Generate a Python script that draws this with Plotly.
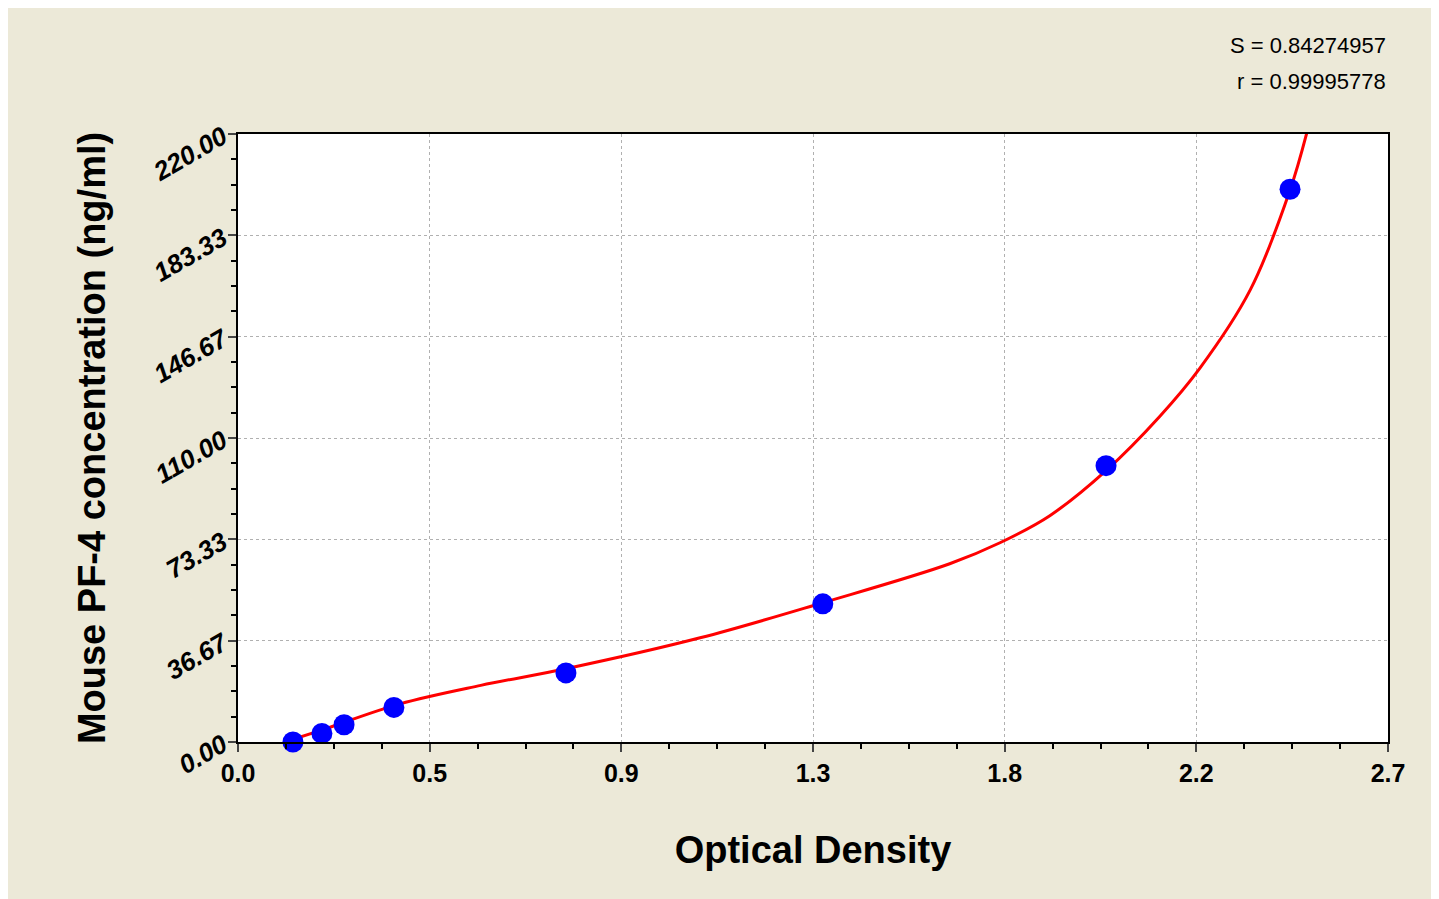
import plotly.graph_objects as go

od = [0.129, 0.197, 0.249, 0.366, 0.770, 1.373, 2.038, 2.470]
conc = [0, 3.12, 6.25, 12.5, 25, 50, 100, 200]
curve_x = [0.110, 0.200, 0.380, 0.570, 0.770, 1.085, 1.373, 1.671, 1.789, 1.906, 2.038, 2.164, 2.258, 2.376, 2.470, 2.512]
curve_y = [0, 4.5, 13.8, 20.5, 26.5, 37.7, 50.4, 64.5, 72.1, 81.9, 98.2, 117.8, 135.2, 163.4, 199.7, 222]
xticks = [0, 0.45, 0.9, 1.35, 1.8, 2.25, 2.7]
xlabels = ["0.0", "0.5", "0.9", "1.3", "1.8", "2.2", "2.7"]
yticks = [0, 36.67, 73.33, 110, 146.67, 183.33, 220]
ylabels = ["0.00", "36.67", "73.33", "110.00", "146.67", "183.33", "220.00"]

fig = go.Figure()
fig.add_trace(go.Scatter(x=curve_x, y=curve_y, mode="lines", line=dict(color="#ff0000", width=3, shape="spline"), showlegend=False))
fig.add_trace(go.Scatter(x=od, y=conc, mode="markers", marker=dict(color="#0000ff", size=21), showlegend=False, cliponaxis=False))
fig.update_layout(
    width=1431, height=891, paper_bgcolor="#ECE9D8", plot_bgcolor="white",
    margin=dict(l=230, r=51, t=126, b=157),
    font=dict(family="Arial, Liberation Sans", color="black"),
    xaxis=dict(range=[0, 2.7], tickvals=xticks, ticktext=xlabels, showgrid=True, gridcolor="#b0b0b0", griddash="dot",
               ticks="outside", ticklen=8, tickwidth=1.5, showline=True, linecolor="black", linewidth=2, mirror=True,
               minor=dict(dtick=0.1125, ticks="outside", ticklen=5, tickcolor="black", showgrid=False),
               tickfont=dict(size=25, weight="bold"), zeroline=False,
               title=dict(text="<b>Optical Density</b>", font=dict(size=38), standoff=50)),
    yaxis=dict(range=[0, 220], tickvals=yticks, ticktext=ylabels, showgrid=True, gridcolor="#b0b0b0", griddash="dot",
               ticks="outside", ticklen=8, tickwidth=1.5, showline=True, linecolor="black", linewidth=2, mirror=True,
               minor=dict(dtick=220/24, ticks="outside", ticklen=5, tickcolor="black", showgrid=False),
               tickangle=-30, tickfont=dict(size=26, weight="bold", style="italic"), zeroline=False,
               title=dict(text="<b>Mouse PF-4 concentration (ng/ml)</b>", font=dict(size=38), standoff=30)),
    annotations=[
        dict(text="S = 0.84274957", x=1.0, y=1.0 + (134 - 46) / 607, xref="paper", yref="paper", showarrow=False,
             font=dict(size=22), xanchor="right", yanchor="middle"),
        dict(text="r = 0.99995778", x=1.0, y=1.0 + (134 - 82) / 607, xref="paper", yref="paper", showarrow=False,
             font=dict(size=22), xanchor="right", yanchor="middle"),
    ],
)
fig.write_html("out.html")
